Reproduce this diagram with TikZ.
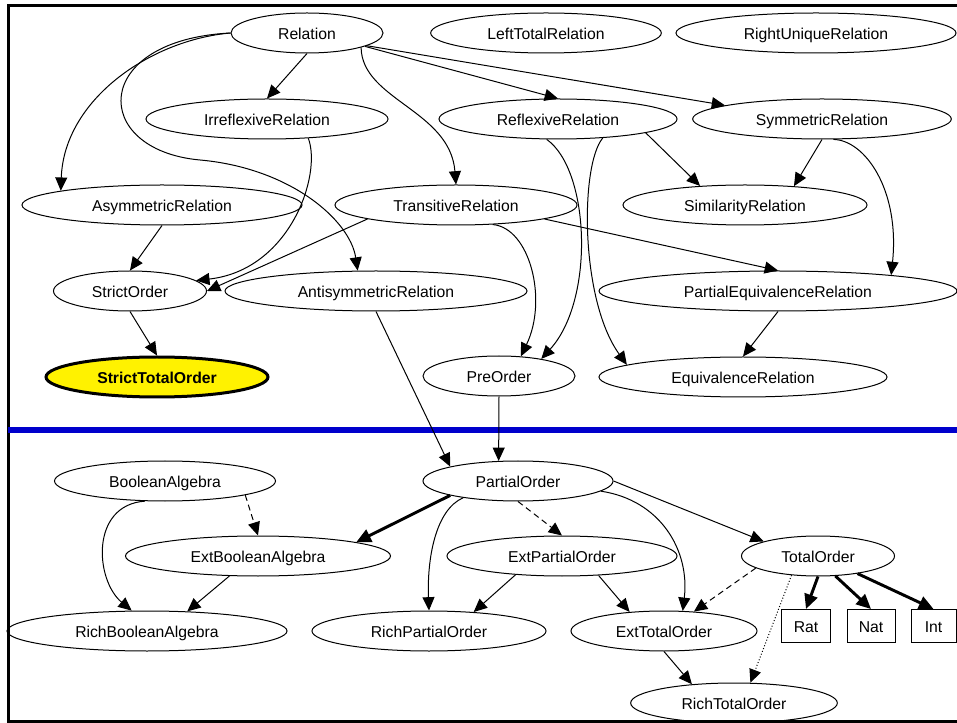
\documentclass[tikz,border=0pt]{standalone}
\usepackage{fontspec}
\setmainfont{Liberation Sans}
\usetikzlibrary{shapes.geometric, arrows.meta}
\definecolor{sepblue}{RGB}{0,0,204}

\begin{document}
\begin{tikzpicture}[x=0.75pt, y=0.75pt, line width=0.75pt,
    oval/.style={draw, ellipse, inner sep=0pt, minimum height=30pt, text height=10pt, text depth=0pt, font=\fontsize{11.8}{14}\selectfont},
    box/.style={draw, rectangle, inner sep=0pt, minimum height=24.75pt, text height=10pt, text depth=0pt, font=\fontsize{11.8}{14}\selectfont},
    arr/.style={-{Triangle[length=10pt, width=9pt]}},
    heavy/.style={line width=2.2pt, -{Triangle[length=11pt, width=10pt]}},
    dashedge/.style={dash pattern=on 4.5pt off 3pt},
    dotedge/.style={dash pattern=on 0.75pt off 1.5pt}]
    \useasboundingbox (0,0) rectangle (957,-723);
    \clip (0,0) rectangle (957,-723);
    \draw[line width=2.25pt] (8.5,-5.5) rectangle (965,-721.5);
    \draw[line width=4.5pt, sepblue] (8,-430) -- (965,-430);

    \node[oval, minimum width=114pt] (rel) at (307,-33) {Relation};
    \node[oval, minimum width=173pt] (ltot) at (546,-33) {LeftTotalRelation};
    \node[oval, minimum width=210pt] (runiq) at (816,-33) {RightUniqueRelation};
    \node[oval, minimum width=181.5pt] (irr) at (267,-119) {IrreflexiveRelation};
    \node[oval, minimum width=178.5pt] (refl) at (558,-119) {ReflexiveRelation};
    \node[oval, minimum width=194pt] (sym) at (822,-119) {SymmetricRelation};
    \node[oval, minimum width=210pt] (asym) at (162,-205) {AsymmetricRelation};
    \node[oval, minimum width=181.5pt] (trans) at (456,-205) {TransitiveRelation};
    \node[oval, minimum width=183pt] (sim) at (745,-205) {SimilarityRelation};
    \node[oval, minimum width=114.75pt] (strict) at (130,-291) {StrictOrder};
    \node[oval, minimum width=226.5pt] (anti) at (376,-291) {AntisymmetricRelation};
    \node[oval, minimum width=268.5pt] (peq) at (778,-291) {PartialEquivalenceRelation};
    \node[oval, minimum width=166.5pt, fill=yellow, line width=2.25pt, font=\fontsize{11.8}{14}\selectfont\bfseries] (sto) at (157,-377) {StrictTotalOrder};
    \node[oval, minimum width=114pt] (pre) at (499,-376) {PreOrder};
    \node[oval, minimum width=216pt] (eqv) at (743,-377) {EquivalenceRelation};

    \node[oval, minimum width=165.75pt] (ba) at (165,-481) {BooleanAlgebra};
    \node[oval, minimum width=142.5pt] (po) at (518,-481) {PartialOrder};
    \node[oval, minimum width=198.75pt] (eba) at (258,-556) {ExtBooleanAlgebra};
    \node[oval, minimum width=172.5pt] (epo) at (562,-556) {ExtPartialOrder};
    \node[oval, minimum width=114.75pt] (tot) at (818,-556) {TotalOrder};
    \node[oval, minimum width=210pt] (rba) at (147,-631) {RichBooleanAlgebra};
    \node[oval, minimum width=175.5pt] (rpo) at (429,-631) {RichPartialOrder};
    \node[oval, minimum width=139.5pt] (eto) at (664,-631) {ExtTotalOrder};
    \node[oval, minimum width=155pt] (rto) at (734,-703) {RichTotalOrder};
    \node[box, minimum width=36.75pt] (rat) at (806,-626) {Rat};
    \node[box, minimum width=36pt] (nat) at (871,-626) {Nat};
    \node[box, minimum width=33.75pt] (int) at (933.5,-626) {Int};

    \draw[arr] (rel.south) -- (irr.north);
    \draw[arr] (rel.west) .. controls (150,-40) and (64,-100) .. (asym.172);
    \draw[arr] (rel.west) .. controls (90,-40) and (90,-150) .. (200,-160) .. controls (290,-168) and (350,-220) .. (anti.132);
    \draw[arr] (rel.-15) .. controls (362,-100) and (450,-110) .. (trans.north);
    \draw[arr] (rel.-13) -- (refl.north);
    \draw[arr] (rel.-12) -- (sym.172);
    \draw[arr] (irr.-25) .. controls (322,-175) and (290,-270) .. (strict.9);
    \draw[arr] (asym.south) -- (strict.north);
    \draw[arr] (trans.189) -- (strict.east);
    \draw[arr] (trans.-28) .. controls (530,-228) and (548,-300) .. (pre.42);
    \draw[arr] (trans.-9) -- (peq.north);
    \draw[arr] (refl.-9) -- (sim.157);
    \draw[arr] (refl.-119) .. controls (590,-170) and (595,-300) .. (pre.22);
    \draw[arr] (refl.-23) .. controls (580,-165) and (580,-300) .. (eqv.174);
    \draw[arr] (sym.south) -- (sim.21);
    \draw[arr] (sym.-61) .. controls (865,-140) and (900,-190) .. (peq.8);
    \draw[arr] (peq.south) -- (eqv.north);
    \draw[arr] (strict.south) -- (sto.north);
    \draw[arr] (anti.south) -- (po.168);
    \draw[arr] (pre.south) -- (po.134);

    \draw[heavy] (po.192) -- (eba.8);
    \draw[arr] (po.197) .. controls (435,-510) and (427,-560) .. (rpo.north);
    \draw[arr, dashedge] (po.south) -- (epo.north);
    \draw[arr] (po.-7) .. controls (660,-500) and (690,-550) .. (eto.47);
    \draw[arr] (po.east) -- (tot.165);
    \draw[arr, dashedge] (ba.-10) -- (eba.north);
    \draw[arr] (ba.-135) .. controls (90,-505) and (95,-580) .. (rba.127);
    \draw[arr] (eba.215) -- (rba.26);
    \draw[arr] (epo.202) -- (rpo.23);
    \draw[arr] (epo.-28) -- (eto.151);
    \draw[arr, dashedge] (tot.191) -- (eto.33);
    \draw[arr, dotedge] (tot.216) -- (rto.51);
    \draw[arr] (eto.south) -- (rto.156);
    \draw[heavy] (tot.south) -- (rat.north);
    \draw[heavy] (tot.-49) -- (nat.north);
    \draw[heavy] (tot.-24) -- (int.north);
\end{tikzpicture}
\end{document}
